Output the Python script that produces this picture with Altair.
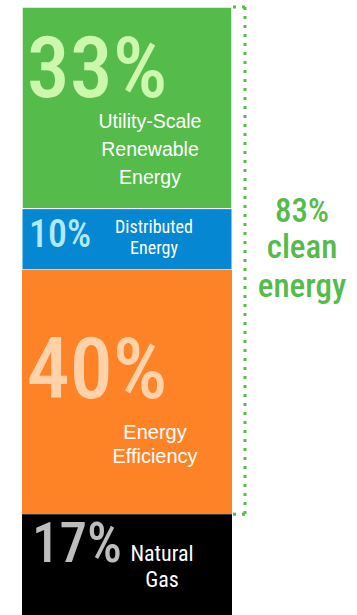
import altair as alt
import pandas as pd

# ---------------- data ----------------
segments = ["Utility-Scale Renewable Energy", "Distributed Energy", "Energy Efficiency", "Natural Gas"]
shares = [33, 10, 40, 17]
segment_lines = [["Utility-Scale", "Renewable", "Energy"],
                 ["Distributed", "Energy"],
                 ["Energy", "Efficiency"],
                 ["Natural", "Gas"]]
clean_segments = ["Utility-Scale Renewable Energy", "Distributed Energy", "Energy Efficiency"]
clean_words = ["clean", "energy"]

# ---------------- style / layout ----------------
fill_colors = ["#55BB4B", "#0587D2", "#FE8226", "#000000"]
pct_colors = ["#CCF7AD", "#B3E9FF", "#FFD2AA", "#BDBDBD"]
label_color = "#FFFFFF"
clean_color = "#55BB4B"
NARROW = "Roboto Condensed"
REGULAR = "Liberation Sans"

PLOT_W, PLOT_H, PAD_TOP = 357, 608, 7
Y_DOMAIN = [0.5, 100]
PX = PLOT_H / (Y_DOMAIN[1] - Y_DOMAIN[0])  # pixels per percentage point
BAR_X0, BAR_X1 = 22, 232
BRACKET_X, BRACKET_X0 = 245, 233

# (center x, baseline offset from segment top in px, font size)
pct_layout = [(97, 90, 86), (60, 38, 38), (97, 128, 86), (77, 48, 55)]
# (center x, baseline offsets from segment top in px, font size, font)
label_layout = [(150, [121, 149, 177], 19.5, REGULAR),
                (154, [24, 45], 18, NARROW),
                (155, [169, 193], 20, REGULAR),
                (162, [47, 73], 22, NARROW)]
clean_layout = (302, [215, 251, 290], 33)

tops, bottoms = [], []
running = sum(shares)
for s in shares:
    tops.append(running)
    bottoms.append(running - s)
    running -= s

bars = pd.DataFrame({"segment": segments, "share": shares, "top": tops,
                     "bottom": bottoms, "fill": fill_colors,
                     "sw": [1.5, 1, 0, 0]})

pct_rows = []
for i, s in enumerate(shares):
    cx, off, fs = pct_layout[i]
    pct_rows.append({"text": f"{s}%", "x": cx, "y": tops[i] - off / PX,
                     "size": fs, "color": pct_colors[i]})
pct_df = pd.DataFrame(pct_rows)

lab_rows = {}
for i, lines in enumerate(segment_lines):
    cx, offs, fs, font = label_layout[i]
    for line, off in zip(lines, offs):
        lab_rows.setdefault(font, []).append({"text": line, "x": cx, "y": tops[i] - off / PX, "size": fs})

clean_total = sum(sh for sg, sh in zip(segments, shares) if sg in clean_segments)
clean_top = max(tops[segments.index(s)] for s in clean_segments)
clean_bottom = min(bottoms[segments.index(s)] for s in clean_segments)
cx, offs, fs = clean_layout
clean_df = pd.DataFrame({"text": [f"{clean_total}%"] + clean_words,
                         "x": [cx] * 3,
                         "y": [clean_top - o / PX for o in offs]})
bracket_df = pd.DataFrame({"top": [clean_top], "bottom": [clean_bottom]})

yscale = alt.Scale(domain=Y_DOMAIN, zero=False, nice=False)

bar = alt.Chart(bars).mark_rect(clip=True, stroke="white").encode(
    x=alt.value(BAR_X0), x2=alt.value(BAR_X1),
    y=alt.Y("top:Q", scale=yscale, axis=None), y2="bottom:Q",
    fill=alt.Fill("fill:N", scale=None),
    strokeWidth=alt.StrokeWidth("sw:Q", scale=None),
)

pct_text = alt.Chart(pct_df).mark_text(
    font=NARROW, fontWeight=500, align="center", baseline="alphabetic"
).encode(
    x=alt.X("x:Q", scale=None), y=alt.Y("y:Q", scale=yscale, axis=None),
    text="text:N", size=alt.Size("size:Q", scale=None),
    color=alt.Color("color:N", scale=None),
)

label_layers = []
for font, rows in lab_rows.items():
    label_layers.append(alt.Chart(pd.DataFrame(rows)).mark_text(
        font=font, color=label_color, align="center", baseline="alphabetic"
    ).encode(
        x=alt.X("x:Q", scale=None), y=alt.Y("y:Q", scale=yscale, axis=None),
        text="text:N", size=alt.Size("size:Q", scale=None),
    ))

clean_text = alt.Chart(clean_df).mark_text(
    font=NARROW, fontSize=fs, color=clean_color, fontWeight=500,
    align="center", baseline="alphabetic"
).encode(
    x=alt.X("x:Q", scale=None), y=alt.Y("y:Q", scale=yscale, axis=None),
    text="text:N",
)

dots = dict(color=clean_color, strokeWidth=3, strokeDash=[3, 6], strokeCap="butt")
bracket_v = alt.Chart(bracket_df).mark_rule(**dots).encode(
    x=alt.value(BRACKET_X), y=alt.Y("top:Q", scale=yscale, axis=None), y2="bottom:Q")
bracket_t = alt.Chart(bracket_df).mark_rule(**dots).encode(
    x=alt.value(BRACKET_X0), x2=alt.value(BRACKET_X + 1), y=alt.Y("top:Q", scale=yscale, axis=None))
bracket_b = alt.Chart(bracket_df).mark_rule(**dots).encode(
    x=alt.value(BRACKET_X0), x2=alt.value(BRACKET_X + 1), y=alt.Y("bottom:Q", scale=yscale, axis=None))

chart = alt.layer(bar, bracket_v, bracket_t, bracket_b, pct_text, *label_layers, clean_text).properties(
    width=PLOT_W, height=PLOT_H,
    autosize=alt.AutoSizeParams(type="none"),
    padding={"top": PAD_TOP, "left": 0, "right": 0, "bottom": 0},
).configure_view(stroke=None)

chart.save("out.html", embed_options={"renderer": "svg", "actions": False})
